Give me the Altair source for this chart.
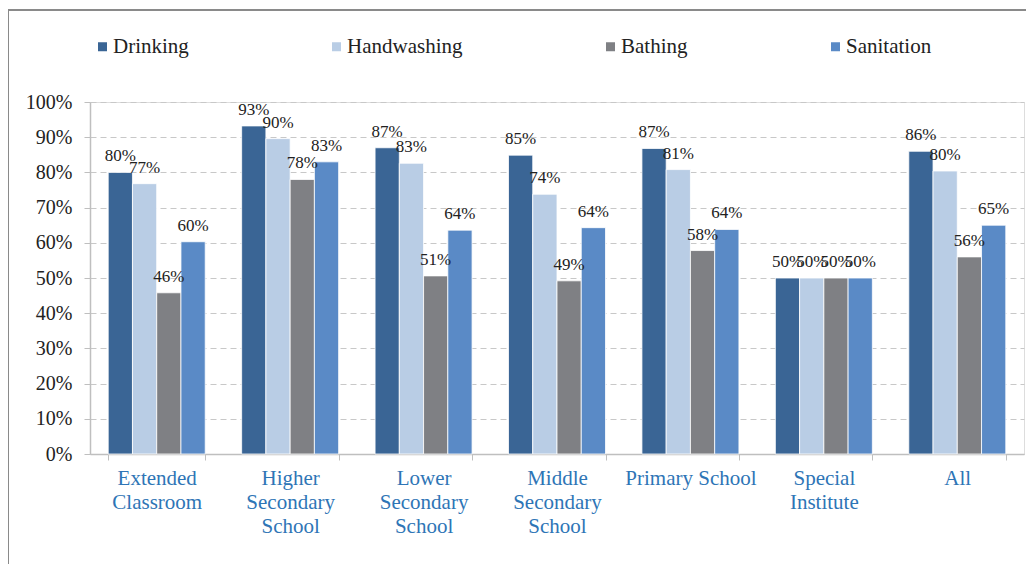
import altair as alt
import pandas as pd

categories = ["Extended Classroom", "Higher Secondary School", "Lower Secondary School",
              "Middle Secondary School", "Primary School", "Special Institute", "All"]
series = ["Drinking", "Handwashing", "Bathing", "Sanitation"]
drinking = [0.80, 0.932, 0.87, 0.849, 0.868, 0.50, 0.86]
handwashing = [0.768, 0.896, 0.826, 0.738, 0.808, 0.50, 0.804]
bathing = [0.458, 0.78, 0.506, 0.492, 0.578, 0.50, 0.56]
sanitation = [0.603, 0.83, 0.636, 0.643, 0.638, 0.50, 0.65]
colors = ["#3a6595", "#b9cde5", "#7f8084", "#5a8ac6"]
y_ticks = [i / 10 for i in range(11)]

rows = []
for s, vals in zip(series, [drinking, handwashing, bathing, sanitation]):
    for c, v in zip(categories, vals):
        rows.append({"category": c, "series": s, "value": v})
df = pd.DataFrame(rows)

FONT = "Liberation Serif"

x = alt.X("category:N", sort=categories, title=None,
          scale=alt.Scale(paddingInner=0.273, paddingOuter=0.1365),
          axis=alt.Axis(labelExpr="datum.label == 'Primary School' ? datum.label : split(datum.label, ' ')",
                        labelAngle=0, labelColor="#2e75b6", labelFont=FONT, labelFontSize=21,
                        labelLineHeight=24, labelPadding=7, tickBand="extent", tickSize=6,
                        tickColor="#bfbfbf", domainColor="#bfbfbf", domainWidth=1.5, grid=False))
xo = alt.XOffset("series:N", sort=series)
y = alt.Y("value:Q", title=None,
          scale=alt.Scale(domain=[0, 1], nice=False),
          axis=alt.Axis(format=".0%", values=y_ticks, tickCount=11, labelFont=FONT, labelFontSize=20,
                        labelColor="#222222", labelPadding=12, tickSize=6, tickColor="#bfbfbf",
                        labelOverlap=False, labelBaseline="middle",
                        domainColor="#bfbfbf", domainWidth=1.5, grid=True, gridColor="#c8c8c8",
                        gridDash=[6, 4], gridWidth=1))

bars = alt.Chart(df).mark_bar(stroke="white", strokeWidth=0.8).encode(
    x=x, xOffset=xo, y=y,
    color=alt.Color("series:N", sort=series,
                    scale=alt.Scale(domain=series, range=colors),
                    legend=alt.Legend(title=None, orient="none", legendX=2, legendY=-66,
                                      direction="horizontal", columns=4, columnPadding=137,
                                      symbolType="square", symbolSize=81, symbolStrokeWidth=0,
                                      labelFont=FONT, labelFontSize=21, labelColor="#222222",
                                      labelOffset=0))
)

labels = alt.Chart(df).mark_text(dy=-11, baseline="alphabetic", font=FONT, fontSize=17,
                                 color="#222222").encode(
    x=x, xOffset=xo, y=y,
    text=alt.Text("value:Q", format=".0%"),
)

frame_left = alt.Chart(df).mark_rule(color="#8a8a8a", strokeWidth=1.5).encode(
    x=alt.value(-82), y=alt.value(-92), y2=alt.value(480))
frame_top = alt.Chart(df).mark_rule(color="#8a8a8a", strokeWidth=1.5).encode(
    x=alt.value(-82), x2=alt.value(940), y=alt.value(-92))

chart = alt.layer(bars, labels, frame_left, frame_top).properties(
    width=934, height=352,
    autosize=alt.AutoSizeParams(type="none"),
    padding={"left": 82, "top": 94, "right": 2, "bottom": 110},
).configure_view(stroke=None).configure(font=FONT).configure_axis(
    labelFont=FONT).configure_legend(labelFont=FONT).configure_text(font=FONT)

chart.save("out.html", embed_options={"renderer": "svg", "actions": False})
